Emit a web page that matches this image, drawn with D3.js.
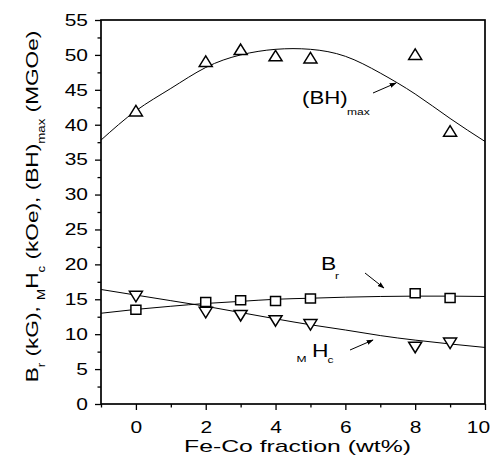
<!DOCTYPE html>
<html>
<head>
<meta charset="utf-8">
<script src="https://cdn.jsdelivr.net/npm/d3@7"></script>
<style>
html,body{margin:0;padding:0;background:#fff;}
svg{display:block;}
text{font-family:"Liberation Sans",Arial,sans-serif;fill:#000;}
</style>
</head>
<body>
<svg id="chart" width="498" height="469"></svg>
<script>
// ---- data ----
const fraction = [0, 2, 3, 4, 5, 8, 9];
const bhMax = [41.9, 49.0, 50.7, 49.8, 49.5, 50.0, 39.0];
const br = [13.5, 14.6, 14.85, 14.75, 15.1, 15.85, 15.2];
const mHc = [15.5, 13.2, 12.75, 12.0, 11.45, 8.2, 8.8];
const fitX = [-1, 0, 1, 2, 3, 4, 5, 6, 7, 8, 9, 10];
const bhFit = [37.8, 42.0, 45.2, 48.2, 50.0, 50.8, 50.8, 49.8, 47.4, 44.4, 40.9, 37.6];
const brFit = [13.0, 13.55, 14.0, 14.4, 14.7, 15.0, 15.15, 15.3, 15.4, 15.45, 15.45, 15.4];
const hcFit = [16.4, 15.6, 14.8, 14.0, 13.1, 12.2, 11.35, 10.6, 9.8, 9.15, 8.6, 8.1];
const xTicks = [0, 2, 4, 6, 8, 10];
const xMinor = [-1, 1, 3, 5, 7, 9];
const yTicks = [0, 5, 10, 15, 20, 25, 30, 35, 40, 45, 50, 55];
const yMinor = [2.5, 7.5, 12.5, 17.5, 22.5, 27.5, 32.5, 37.5, 42.5, 47.5, 52.5];

const SX = 1.27; // horizontal glyph stretch seen in the reference font
const svg = d3.select("#chart");
const L = 101, R = 485, T = 20, B = 404;
const x = d3.scaleLinear().domain([-1, 10]).range([L, R]);
const y = d3.scaleLinear().domain([0, 55]).range([B, T]);

svg.append("defs").append("marker")
  .attr("id", "arr").attr("viewBox", "0 0 10 10").attr("refX", 9).attr("refY", 5)
  .attr("markerWidth", 7).attr("markerHeight", 7).attr("orient", "auto")
  .attr("markerUnits", "userSpaceOnUse")
  .append("path").attr("d", "M0,1.5 L10,5 L0,8.5 Z").attr("fill", "#000");

// axes
const xAxis = d3.axisBottom(x).tickValues(xTicks).tickSize(6).tickPadding(11.5).tickFormat(d3.format("d"));
const xAxisMinor = d3.axisBottom(x).tickValues(xMinor).tickSize(3.5).tickFormat("");
const yAxis = d3.axisLeft(y).tickValues(yTicks).tickSize(6).tickPadding(5).tickFormat(d3.format("d"));
const yAxisMinor = d3.axisLeft(y).tickValues(yMinor).tickSize(3.5).tickFormat("");

function styleAxis(g){
  g.select(".domain").remove();
  g.selectAll("line").attr("stroke", "#000").attr("stroke-width", 1.3);
  g.selectAll("text").style("font-size", "16.5px").style("font-family", "'Liberation Sans',Arial,sans-serif")
    .attr("transform", `scale(${SX},1)`);
}
svg.append("g").attr("transform", `translate(0,${B})`).call(xAxis).call(styleAxis)
  .selectAll("text").attr("x", d => d === 10 ? -7 / SX : 0);
svg.append("g").attr("transform", `translate(0,${B})`).call(xAxisMinor).call(styleAxis);
svg.append("g").attr("transform", `translate(${L},0)`).call(yAxis).call(styleAxis)
  .selectAll("text").attr("x", -13 / SX);
svg.append("g").attr("transform", `translate(${L},0)`).call(yAxisMinor).call(styleAxis);

// frame
svg.append("rect").attr("x", L).attr("y", T).attr("width", R - L).attr("height", B - T)
  .attr("fill", "none").attr("stroke", "#000").attr("stroke-width", 1.7);

// fit lines
const line = d3.line().x(d => x(d[0])).y(d => y(d[1])).curve(d3.curveNatural);
[bhFit, brFit, hcFit].forEach(arr => {
  svg.append("path").datum(fitX.map((v, i) => [v, arr[i]]))
    .attr("d", line).attr("fill", "none").attr("stroke", "#000").attr("stroke-width", 1);
});

// markers
const triUp = "M0,-6 L6.5,4.5 L-6.5,4.5 Z";
const triDown = "M0,6 L6.5,-4.5 L-6.5,-4.5 Z";
const sq = "M-5,-4.5 L5,-4.5 L5,4.5 L-5,4.5 Z";
function markers(vals, path){
  svg.append("g").selectAll("path").data(fraction.map((v, i) => [v, vals[i]])).join("path")
    .attr("transform", d => `translate(${x(d[0])},${y(d[1])})`)
    .attr("d", path).attr("fill", "#fff").attr("stroke", "#000").attr("stroke-width", 1.5);
}
markers(bhMax, triUp);
markers(br, sq);
markers(mHc, triDown);

// annotations
function arrow(x1, y1, x2, y2){
  svg.append("line").attr("x1", x1).attr("y1", y1).attr("x2", x2).attr("y2", y2)
    .attr("stroke", "#000").attr("stroke-width", 1).attr("marker-end", "url(#arr)");
}
function label(px, py, str, size){
  return svg.append("text").attr("transform", `translate(${px},${py}) scale(${SX},1)`)
    .style("font-size", size + "px").text(str);
}
label(302, 104, "(BH)", 17.5);
label(347, 115, "max", 9.5);
arrow(373, 93, 396, 83);

label(321, 270, "B", 18);
label(335, 278.5, "r", 9.5);
arrow(365, 273, 384, 288);

label(296.5, 362, "M", 9.5);
label(312, 357, "H", 18);
label(327.5, 362.5, "c", 9.5);
arrow(350, 350, 373, 340);

// axis titles (stretched along their length to the reference's span)
const xt = svg.append("text").attr("text-anchor", "middle")
  .style("font-size", "17px").text("Fe-Co fraction (wt%)");
const xw = xt.node().getBBox().width;
xt.attr("transform", `translate(297.5,452) scale(${227 / xw},1)`);

const yt = svg.append("text").attr("text-anchor", "middle").style("font-size", "17px");
yt.append("tspan").text("B");
yt.append("tspan").attr("dy", 7).style("font-size", "10px").text("r");
yt.append("tspan").attr("dy", -7).text(" (kG), ");
yt.append("tspan").attr("dy", 7).style("font-size", "10px").text("M");
yt.append("tspan").attr("dy", -7).text("H");
yt.append("tspan").attr("dy", 7).style("font-size", "10px").text("c");
yt.append("tspan").attr("dy", -7).text(" (kOe), (BH)");
yt.append("tspan").attr("dy", 7).style("font-size", "10px").text("max");
yt.append("tspan").attr("dy", -7).text(" (MGOe)");
const yw = yt.node().getBBox().width;
yt.attr("transform", `translate(38,206.5) rotate(-90) scale(${352 / yw},1)`);
</script>
</body>
</html>
